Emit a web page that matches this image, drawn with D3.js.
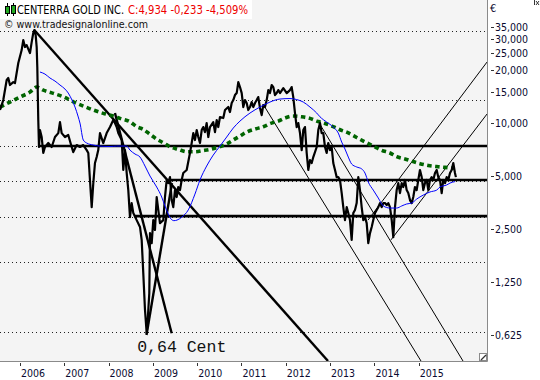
<!DOCTYPE html>
<html><head><meta charset="utf-8">
<script src="https://cdn.jsdelivr.net/npm/d3@7"></script>
<style>body{margin:0;background:#fff}svg{display:block}</style>
</head><body><svg id="c" width="540" height="380"></svg>
<script>
// ---------- data ----------
const title = "CENTERRA GOLD INC.";
const quote = "C:4,934 -0,233 -4,509%";
const source = "\u00A9 www.tradesignalonline.com";
const currency = "\u20AC";
const yearTicks = [2006, 2007, 2008, 2009, 2010, 2011, 2012, 2013, 2014, 2015];
const priceTicks = [35, 30, 25, 20, 15, 10, 5, 2.5, 1.25, 0.625];
const gridLevels = [33.4, 13.5, 7.43, 4.67, 2.94, 1.63, 0.647];

// [decimal year, price in EUR]
const price = [
[2005.549,11.86],[2005.623,13.51],[2005.700,17.55],[2005.736,18.02],[2005.774,16.44],[2005.849,17.09],[2005.887,16.87],[2005.962,21.92],
[2006.038,25.98],[2006.074,29.61],[2006.113,27.02],[2006.151,27.73],[2006.226,24.98],[2006.264,28.84],[2006.300,32.45],[2006.323,33.75],
[2006.354,31.61],[2006.377,27.02],[2006.391,20.80],[2006.413,10.40],[2006.429,7.31],[2006.451,9.12],[2006.490,8.33],[2006.526,6.76],
[2006.564,7.31],[2006.639,7.70],[2006.716,7.31],[2006.790,8.33],[2006.865,8.77],[2006.903,10.13],[2006.941,8.77],[2007.016,8.33],
[2007.090,8.55],[2007.167,7.31],[2007.203,6.84],[2007.280,7.50],[2007.354,7.31],[2007.429,7.50],[2007.506,7.02],[2007.542,6.76],
[2007.580,4.75],[2007.619,3.33],[2007.655,4.56],[2007.693,5.93],[2007.731,6.41],[2007.767,7.02],[2007.806,8.77],[2007.880,7.70],
[2007.957,8.77],[2008.032,9.49],[2008.106,10.40],[2008.144,10.00],[2008.183,9.49],[2008.219,8.77],[2008.296,8.01],[2008.332,5.41],
[2008.370,7.02],[2008.409,5.20],[2008.445,4.16],[2008.483,2.92],[2008.521,3.51],[2008.558,3.08],[2008.634,2.81],[2008.709,2.57],
[2008.747,2.17],[2008.783,1.41],[2008.822,0.867],[2008.860,0.64],[2008.883,0.76],[2008.919,1.08],[2008.935,2.37],[2008.973,2.08],
[2009.009,2.81],[2009.047,2.47],[2009.086,3.80],[2009.122,3.21],[2009.160,2.70],[2009.235,2.81],[2009.273,3.80],[2009.312,4.75],
[2009.348,4.56],[2009.386,4.93],[2009.424,3.65],[2009.460,3.33],[2009.499,4.16],[2009.537,3.80],[2009.573,4.33],[2009.612,4.16],
[2009.650,4.75],[2009.686,5.20],[2009.763,5.41],[2009.837,6.76],[2009.876,7.70],[2009.912,8.77],[2009.950,8.01],[2009.989,9.12],
[2010.025,8.33],[2010.063,7.70],[2010.102,9.12],[2010.138,9.49],[2010.176,8.88],[2010.214,10.00],[2010.251,8.33],[2010.289,9.49],
[2010.363,10.13],[2010.402,8.88],[2010.440,10.40],[2010.476,9.49],[2010.515,10.82],[2010.589,10.68],[2010.628,11.86],[2010.702,12.33],
[2010.740,11.55],[2010.779,12.99],[2010.815,13.51],[2010.853,14.42],[2010.892,14.80],[2010.928,17.09],[2010.966,16.01],[2011.005,14.80],
[2011.041,12.33],[2011.079,13.51],[2011.117,12.99],[2011.153,11.86],[2011.192,12.33],[2011.230,13.16],[2011.266,12.33],[2011.305,12.99],
[2011.343,13.51],[2011.379,14.05],[2011.418,12.17],[2011.456,11.10],[2011.492,12.66],[2011.530,12.33],[2011.569,13.51],[2011.605,15.39],
[2011.643,14.80],[2011.682,16.44],[2011.718,16.01],[2011.756,14.42],[2011.795,14.80],[2011.831,15.39],[2011.869,14.80],[2011.944,15.80],
[2012.021,14.80],[2012.095,15.39],[2012.133,16.01],[2012.169,14.05],[2012.208,11.40],[2012.246,9.49],[2012.282,10.00],[2012.321,8.77],
[2012.359,7.02],[2012.395,9.12],[2012.433,9.49],[2012.472,6.76],[2012.508,5.41],[2012.546,6.16],[2012.585,5.93],[2012.621,6.41],
[2012.698,7.31],[2012.734,9.12],[2012.772,10.00],[2012.810,8.77],[2012.847,8.77],[2012.885,7.31],[2012.923,6.76],[2012.959,7.70],
[2012.998,7.02],[2013.036,7.31],[2013.072,5.93],[2013.111,5.41],[2013.149,4.93],[2013.185,4.93],[2013.223,4.75],[2013.262,4.00],
[2013.298,3.33],[2013.336,2.81],[2013.375,3.33],[2013.411,3.08],[2013.449,2.81],[2013.487,2.17],[2013.524,3.08],[2013.562,3.21],
[2013.600,3.51],[2013.637,4.93],[2013.675,4.16],[2013.713,3.33],[2013.749,2.81],[2013.788,2.92],[2013.826,2.70],[2013.862,2.08],
[2013.901,2.37],[2013.939,2.57],[2013.975,2.81],[2014.014,3.08],[2014.052,3.21],[2014.088,3.33],[2014.126,3.51],[2014.165,3.33],
[2014.201,3.51],[2014.239,3.51],[2014.278,3.42],[2014.314,3.51],[2014.352,3.33],[2014.391,2.81],[2014.427,2.25],[2014.465,3.33],
[2014.503,4.16],[2014.540,4.56],[2014.578,4.00],[2014.616,4.56],[2014.652,4.33],[2014.691,4.75],[2014.729,4.16],[2014.765,4.00],
[2014.804,3.65],[2014.842,3.51],[2014.878,3.80],[2014.916,4.33],[2014.955,4.16],[2014.991,4.75],[2015.029,5.41],[2015.068,4.93],
[2015.104,4.16],[2015.142,4.56],[2015.181,4.75],[2015.217,4.16],[2015.255,4.75],[2015.293,4.93],[2015.330,4.75],[2015.368,5.20],
[2015.406,5.41],[2015.442,4.93],[2015.481,4.75],[2015.519,4.00],[2015.555,4.75],[2015.594,4.56],[2015.632,4.93],[2015.668,4.75],
[2015.707,5.20],[2015.745,5.41],[2015.781,5.93],[2015.819,5.20],[2015.840,4.93]
];

// short moving average (blue)
const maShort = [
[2006.451,19.49],[2006.564,18.98],[2006.677,18.02],[2006.790,17.32],[2006.903,16.44],[2007.016,15.60],[2007.090,14.80],[2007.174,13.51],
[2007.242,12.33],[2007.309,10.96],[2007.354,10.00],[2007.429,8.01],[2007.506,7.70],[2007.655,7.50],[2007.806,7.40],[2008.032,7.36],
[2008.183,7.40],[2008.303,7.40],[2008.409,7.40],[2008.483,7.02],[2008.596,6.67],[2008.709,6.41],[2008.822,5.70],[2008.935,5.00],
[2009.086,4.33],[2009.199,3.80],[2009.273,3.38],[2009.348,3.04],[2009.409,2.85],[2009.476,2.79],[2009.544,2.81],[2009.650,2.92],
[2009.799,3.21],[2009.950,3.95],[2010.063,4.75],[2010.214,5.70],[2010.363,6.58],[2010.515,7.40],[2010.666,8.33],[2010.815,9.37],
[2010.966,10.26],[2011.192,11.40],[2011.418,12.33],[2011.643,13.16],[2011.869,13.69],[2012.095,13.78],[2012.246,13.60],[2012.395,13.16],
[2012.546,12.33],[2012.698,11.40],[2012.772,10.85],[2012.923,10.13],[2013.072,9.49],[2013.185,8.77],[2013.262,7.80],[2013.336,7.12],
[2013.411,6.41],[2013.487,5.85],[2013.600,5.63],[2013.713,5.49],[2013.788,5.20],[2013.862,4.62],[2013.975,4.16],[2014.088,3.75],
[2014.201,3.38],[2014.352,3.29],[2014.503,3.29],[2014.616,3.38],[2014.729,3.47],[2014.842,3.51],[2014.955,3.70],[2015.104,3.90],
[2015.255,4.06],[2015.406,4.16],[2015.481,4.33],[2015.632,4.45],[2015.707,4.56],[2015.819,4.65]
];

// long moving average (green dotted)
const maLong = [
[2005.549,12.33],[2005.774,13.16],[2006.000,14.05],[2006.226,15.00],[2006.377,16.01],[2006.526,15.39],[2006.752,14.75],[2006.977,14.10],
[2007.203,13.21],[2007.429,12.49],[2007.655,11.86],[2007.880,11.35],[2008.106,10.96],[2008.257,10.63],[2008.483,10.17],[2008.634,9.53],
[2008.783,9.21],[2008.935,8.63],[2009.086,8.11],[2009.235,7.73],[2009.386,7.33],[2009.573,7.09],[2009.763,6.87],[2009.950,6.87],
[2010.138,6.98],[2010.327,7.12],[2010.515,7.35],[2010.666,7.60],[2010.815,8.01],[2010.966,8.44],[2011.117,8.89],[2011.305,9.24],
[2011.492,9.53],[2011.659,9.96],[2011.831,10.26],[2011.982,10.68],[2012.156,10.96],[2012.359,10.85],[2012.546,10.63],[2012.734,10.20],
[2012.885,9.95],[2013.072,9.55],[2013.223,9.16],[2013.375,8.87],[2013.524,8.49],[2013.675,8.08],[2013.840,7.70],[2014.014,7.31],
[2014.165,7.00],[2014.352,6.76],[2014.503,6.45],[2014.691,6.25],[2014.856,6.06],[2015.029,5.88],[2015.217,5.74],[2015.406,5.66],
[2015.594,5.60],[2015.797,5.53]
];

// horizontal support / resistance levels: [start year, price]
const levels = [[2006.406, 7.40], [2009.352, 4.75], [2008.573, 2.96]];
// thick trend lines: [year1, price1, year2, price2]
const trendThick = [
[2006.323, 33.75, 2012.953, 0.445],
[2008.144, 11.40, 2009.424, 0.64],
[2008.856, 0.625, 2009.431, 4.56]
];
// thin trend lines
const trendThin = [
[2011.485, 12.82, 2015.052, 0.445],
[2012.727, 10.26, 2016.000, 0.445],
[2013.856, 2.81, 2016.542, 22.2],
[2014.375, 2.17, 2016.542, 11.25]
];
const lowNote = {text: "0,64 Cent", year: 2008.860, value: 0.64};

// ---------- chart ----------
const svg = d3.select("#c");
const PW = 487, PH = 361;
const x = d3.scaleLinear().domain([2005.549, 2016.542]).range([0, PW]);
const y = d3.scaleLog().domain([0.445, 50]).range([PH, 0]);
const loc = d3.formatLocale({decimal: ",", thousands: ".", grouping: [3], currency: ["", "\u20AC"]});
const fmt = loc.format(".3f");
const FONT = "'DejaVu Sans Condensed','DejaVu Sans',sans-serif";

svg.append("rect").attr("x", 0).attr("y", 0).attr("width", 540).attr("height", 380).attr("fill", "#ffffff");
svg.append("rect").attr("x", 0).attr("y", 0).attr("width", PW).attr("height", PH).attr("fill", "#f4f4f4");

svg.append("defs").append("clipPath").attr("id", "clip")
  .append("rect").attr("x", 0).attr("y", 0).attr("width", PW).attr("height", PH);
const plot = svg.append("g").attr("clip-path", "url(#clip)");

// dotted grid
plot.selectAll(".grid").data(gridLevels).join("line")
  .attr("x1", 0).attr("x2", PW)
  .attr("y1", d => Math.round(y(d)) + 0.5).attr("y2", d => Math.round(y(d)) + 0.5)
  .attr("stroke", "#222").attr("stroke-width", 1).attr("stroke-dasharray", "1 3");

// horizontal levels
plot.selectAll(".lvl").data(levels).join("line")
  .attr("x1", d => x(d[0])).attr("x2", PW)
  .attr("y1", d => y(d[1])).attr("y2", d => y(d[1]))
  .attr("stroke", "#000").attr("stroke-width", 2.6);

// trend lines
plot.selectAll(".tk").data(trendThick).join("line")
  .attr("x1", d => x(d[0])).attr("y1", d => y(d[1]))
  .attr("x2", d => x(d[2])).attr("y2", d => y(d[3]))
  .attr("stroke", "#000").attr("stroke-width", 2.4);
plot.selectAll(".tn").data(trendThin).join("line")
  .attr("x1", d => x(d[0])).attr("y1", d => y(d[1]))
  .attr("x2", d => x(d[2])).attr("y2", d => y(d[3]))
  .attr("stroke", "#000").attr("stroke-width", 1);

const line = d3.line().x(d => x(d[0])).y(d => y(d[1]));
const smooth = d3.line().x(d => x(d[0])).y(d => y(d[1])).curve(d3.curveMonotoneX);

plot.append("path").datum(maLong).attr("d", smooth)
  .attr("fill", "none").attr("stroke", "#006400").attr("stroke-width", 3.6)
  .attr("stroke-dasharray", "4.5 3.5");
plot.append("path").datum(price).attr("d", line)
  .attr("fill", "none").attr("stroke", "#000").attr("stroke-width", 2.2)
  .attr("stroke-linejoin", "round");
plot.append("path").datum(maShort).attr("d", smooth)
  .attr("fill", "none").attr("stroke", "#0000ff").attr("stroke-width", 1);

// annotation
svg.append("text").attr("x", x(lowNote.year) - 9.5).attr("y", y(lowNote.value) + 19)
  .attr("font-family", "'Liberation Mono','Courier New',monospace").attr("font-size", 16.5)
  .attr("fill", "#111").text(lowNote.text);

// border
svg.append("path").attr("d", `M${PW + 0.5},0V${PH + 0.5}H0`).attr("fill", "none").attr("stroke", "#8a8a8a");

// resize grip
svg.append("rect").attr("x", PW - 7.5).attr("y", PH - 7.5).attr("width", 7).attr("height", 7)
  .attr("fill", "#fff").attr("stroke", "#8a8a8a");
svg.append("path").attr("d", `M${PW - 6},${PH - 1}L${PW - 1},${PH - 6}`).attr("stroke", "#333").attr("stroke-width", 1.2);

// right axis
const ya = svg.append("g");
ya.selectAll("line").data(priceTicks).join("line")
  .attr("x1", PW + 4).attr("x2", PW + 7)
  .attr("y1", d => Math.round(y(d)) + 0.5).attr("y2", d => Math.round(y(d)) + 0.5)
  .attr("stroke", "#333");
ya.selectAll("text").data(priceTicks).join("text")
  .attr("x", PW + 8).attr("y", d => y(d)).attr("dy", "0.36em")
  .attr("font-family", FONT).attr("font-stretch", "condensed").attr("font-size", 10.5)
  .attr("fill", "#0a0a30").text(d => fmt(d));
svg.append("text").attr("x", PW + 3).attr("y", 12).attr("font-family", FONT)
  .attr("font-size", 11).attr("fill", "#0a0a30").text(currency);

// bottom axis
const xa = svg.append("g");
xa.selectAll("line").data(yearTicks).join("line")
  .attr("x1", d => Math.round(x(d)) + 0.5).attr("x2", d => Math.round(x(d)) + 0.5)
  .attr("y1", PH + 2).attr("y2", PH + 5).attr("stroke", "#333");
xa.selectAll("text").data(yearTicks).join("text")
  .attr("x", d => x(d) + 1).attr("y", PH + 16)
  .attr("font-family", FONT).attr("font-stretch", "condensed").attr("font-size", 10.5)
  .attr("fill", "#0a0a30").text(d => d);

// header
svg.append("rect").attr("x", 0).attr("y", 0).attr("width", 252).attr("height", 19).attr("fill", "#fff");
const ic = svg.append("g");
ic.append("line").attr("x1", 7.5).attr("x2", 7.5).attr("y1", 3).attr("y2", 16).attr("stroke", "#000");
ic.append("rect").attr("x", 5.5).attr("y", 6.5).attr("width", 4).attr("height", 7).attr("fill", "#22aa22").attr("stroke", "#000");
ic.append("line").attr("x1", 13.5).attr("x2", 13.5).attr("y1", 3).attr("y2", 16).attr("stroke", "#000");
ic.append("rect").attr("x", 11.5).attr("y", 5.5).attr("width", 4).attr("height", 8).attr("fill", "#22aa22").attr("stroke", "#000");
svg.append("text").attr("x", 17).attr("y", 14).attr("font-family", FONT)
  .attr("font-stretch", "condensed").attr("font-size", 11.5).attr("fill", "#000")
  .attr("textLength", 107).attr("lengthAdjust", "spacingAndGlyphs").text(title);
svg.append("text").attr("x", 128).attr("y", 14).attr("font-family", FONT)
  .attr("font-stretch", "condensed").attr("font-size", 11.5).attr("fill", "#ee0000")
  .attr("textLength", 120).attr("lengthAdjust", "spacingAndGlyphs").text(quote);
svg.append("text").attr("x", 4).attr("y", 28).attr("font-family", FONT)
  .attr("font-stretch", "condensed").attr("font-size", 11).attr("fill", "#111")
  .attr("textLength", 144).attr("lengthAdjust", "spacingAndGlyphs").text(source);

// corner icon
svg.append("path").attr("d", "M534.5,0V5M536,1L539,5M539,1L536,5").attr("stroke", "#333").attr("fill", "none");
</script></body></html>
